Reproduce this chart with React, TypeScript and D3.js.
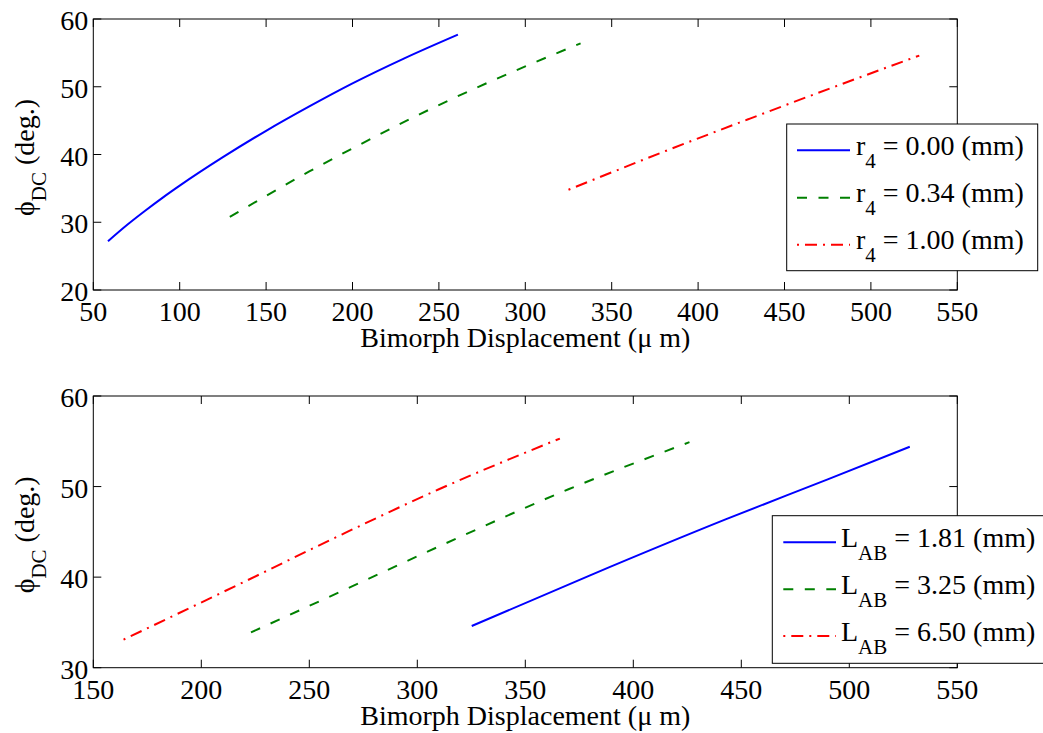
import React from 'react';
import * as d3 from 'd3';

// ---------- data ----------
const topXTicks = [50, 100, 150, 200, 250, 300, 350, 400, 450, 500, 550];
const topYTicks = [20, 30, 40, 50, 60];
const botXTicks = [150, 200, 250, 300, 350, 400, 450, 500, 550];
const botYTicks = [30, 40, 50, 60];

// top panel: r4 series
const r4Labels = ['0.00', '0.34', '1.00'];
const r4_000_x = [58.5, 70, 80, 90, 100, 125, 150, 175, 200, 230, 261];
const r4_000_y = [27.2, 29.7, 31.7, 33.6, 35.4, 39.6, 43.5, 47.1, 50.5, 54.2, 57.7];
const r4_034_x = [129, 150, 175, 200, 250, 300, 332];
const r4_034_y = [30.8, 33.9, 37.5, 40.9, 47.3, 53.0, 56.4];
const r4_100_x = [325, 380, 430, 480, 528];
const r4_100_y = [34.8, 40.4, 45.3, 50.1, 54.6];

// bottom panel: L_AB series
const lABLabels = ['1.81', '3.25', '6.50'];
const lAB_181_x = [325.2, 380, 443, 490, 528];
const lAB_181_y = [34.6, 40.2, 46.4, 50.8, 54.4];
const lAB_325_x = [223, 270, 312, 370, 426];
const lAB_325_y = [33.9, 39.0, 43.6, 49.7, 54.9];
const lAB_650_x = [164, 220, 265, 310, 366];
const lAB_650_y = [33.1, 39.5, 44.7, 49.7, 55.3];

const FONT = '"Liberation Serif", "Times New Roman", Times, serif';
const FS = 28;
const SUB = 21;

const styles = [
  { color: '#0000ff', dash: undefined as string | undefined, offset: 0 },
  { color: '#008000', dash: '10,11.5', offset: 0 },
  { color: '#ff0000', dash: '12,6,2,6', offset: 18 },
];

type Series = { x: number[]; y: number[] };

function Panel(props: {
  left: number; right: number; top: number; bottom: number;
  xDomain: [number, number]; yDomain: [number, number];
  xTicks: number[]; yTicks: number[];
  series: Series[];
  legend: { x: number; y: number; w: number; h: number; lineX0: number; lineX1: number; rows: number[]; textX: number; sym: string; sub: string; labels: string[] };
}) {
  const { left, right, top, bottom, xTicks, yTicks, series, legend } = props;
  const x = d3.scaleLinear().domain(props.xDomain).range([left, right]);
  const y = d3.scaleLinear().domain(props.yDomain).range([bottom, top]);
  const line = d3.line<[number, number]>().x(d => x(d[0])).y(d => y(d[1])).curve(d3.curveMonotoneX);
  const TL = 8;
  const midY = (top + bottom) / 2;
  return (
    <g>
      {series.map((s, i) => (
        <path key={i} d={line(s.x.map((v, k) => [v, s.y[k]] as [number, number])) || ''}
          fill="none" stroke={styles[i].color} strokeWidth={2}
          strokeDasharray={styles[i].dash} strokeDashoffset={styles[i].offset} />
      ))}
      <rect x={left} y={top} width={right - left} height={bottom - top} fill="none" stroke="#000" strokeWidth={1} />
      {xTicks.map(t => (
        <g key={'x' + t}>
          <line x1={x(t)} x2={x(t)} y1={bottom} y2={bottom - TL} stroke="#000" strokeWidth={1} />
          <line x1={x(t)} x2={x(t)} y1={top} y2={top + TL} stroke="#000" strokeWidth={1} />
          <text x={x(t)} y={bottom + 31} textAnchor="middle" fontFamily={FONT} fontSize={FS} fill="#000">{t}</text>
        </g>
      ))}
      {yTicks.map(t => (
        <g key={'y' + t}>
          <line x1={left} x2={left + TL} y1={y(t)} y2={y(t)} stroke="#000" strokeWidth={1} />
          <line x1={right} x2={right - TL} y1={y(t)} y2={y(t)} stroke="#000" strokeWidth={1} />
          <text x={left - 5} y={y(t) + 11} textAnchor="end" fontFamily={FONT} fontSize={FS} fill="#000">{t}</text>
        </g>
      ))}
      <text x={(left + right) / 2} y={bottom + 57} textAnchor="middle" fontFamily={FONT} fontSize={FS} fill="#000">
        Bimorph Displacement (μ m)
      </text>
      <text transform={`translate(34,${midY + 3}) rotate(-90)`} textAnchor="middle" fontFamily={FONT} fontSize={FS} fill="#000">
        <tspan>ϕ</tspan>
        <tspan dy={12} fontSize={SUB}>DC</tspan>
        <tspan dy={-12}> (deg.)</tspan>
      </text>
      <rect x={legend.x} y={legend.y} width={legend.w} height={legend.h} fill="#fff" stroke="#000" strokeWidth={1} />
      {legend.rows.map((ry, i) => (
        <g key={'l' + i}>
          <line x1={legend.lineX0} x2={legend.lineX1} y1={ry} y2={ry} stroke={styles[i].color} strokeWidth={2}
            strokeDasharray={styles[i].dash} strokeDashoffset={styles[i].offset} />
          <text x={legend.textX} y={ry + 4.7} fontFamily={FONT} fontSize={FS} fill="#000">
            <tspan>{legend.sym}</tspan>
            <tspan dy={13} fontSize={SUB}>{legend.sub}</tspan>
            <tspan dy={-13}>{` = ${legend.labels[i]} (mm)`}</tspan>
          </text>
        </g>
      ))}
    </g>
  );
}

export default function App() {
  const topSeries: Series[] = [
    { x: r4_000_x, y: r4_000_y },
    { x: r4_034_x, y: r4_034_y },
    { x: r4_100_x, y: r4_100_y },
  ];
  const botSeries: Series[] = [
    { x: lAB_181_x, y: lAB_181_y },
    { x: lAB_325_x, y: lAB_325_y },
    { x: lAB_650_x, y: lAB_650_y },
  ];
  return (
    <svg width={1043} height={733} style={{ position: 'absolute', left: 0, top: 0, background: '#fff' }}>
      <rect x={0} y={0} width={1043} height={733} fill="#fff" />
      <Panel left={93.3} right={957.3} top={19} bottom={290}
        xDomain={[50, 550]} yDomain={[20, 60]} xTicks={topXTicks} yTicks={topYTicks}
        series={topSeries}
        legend={{ x: 786.7, y: 124, w: 251, h: 146.7, lineX0: 797, lineX1: 850, rows: [150.3, 197.7, 244.7], textX: 856, sym: 'r', sub: '4', labels: r4Labels }} />
      <Panel left={93.3} right={957.3} top={396} bottom={667.7}
        xDomain={[150, 550]} yDomain={[30, 60]} xTicks={botXTicks} yTicks={botYTicks}
        series={botSeries}
        legend={{ x: 772.3, y: 515.7, w: 280, h: 147.6, lineX0: 783.3, lineX1: 836, rows: [542.3, 589.3, 636], textX: 841, sym: 'L', sub: 'AB', labels: lABLabels }} />
    </svg>
  );
}
